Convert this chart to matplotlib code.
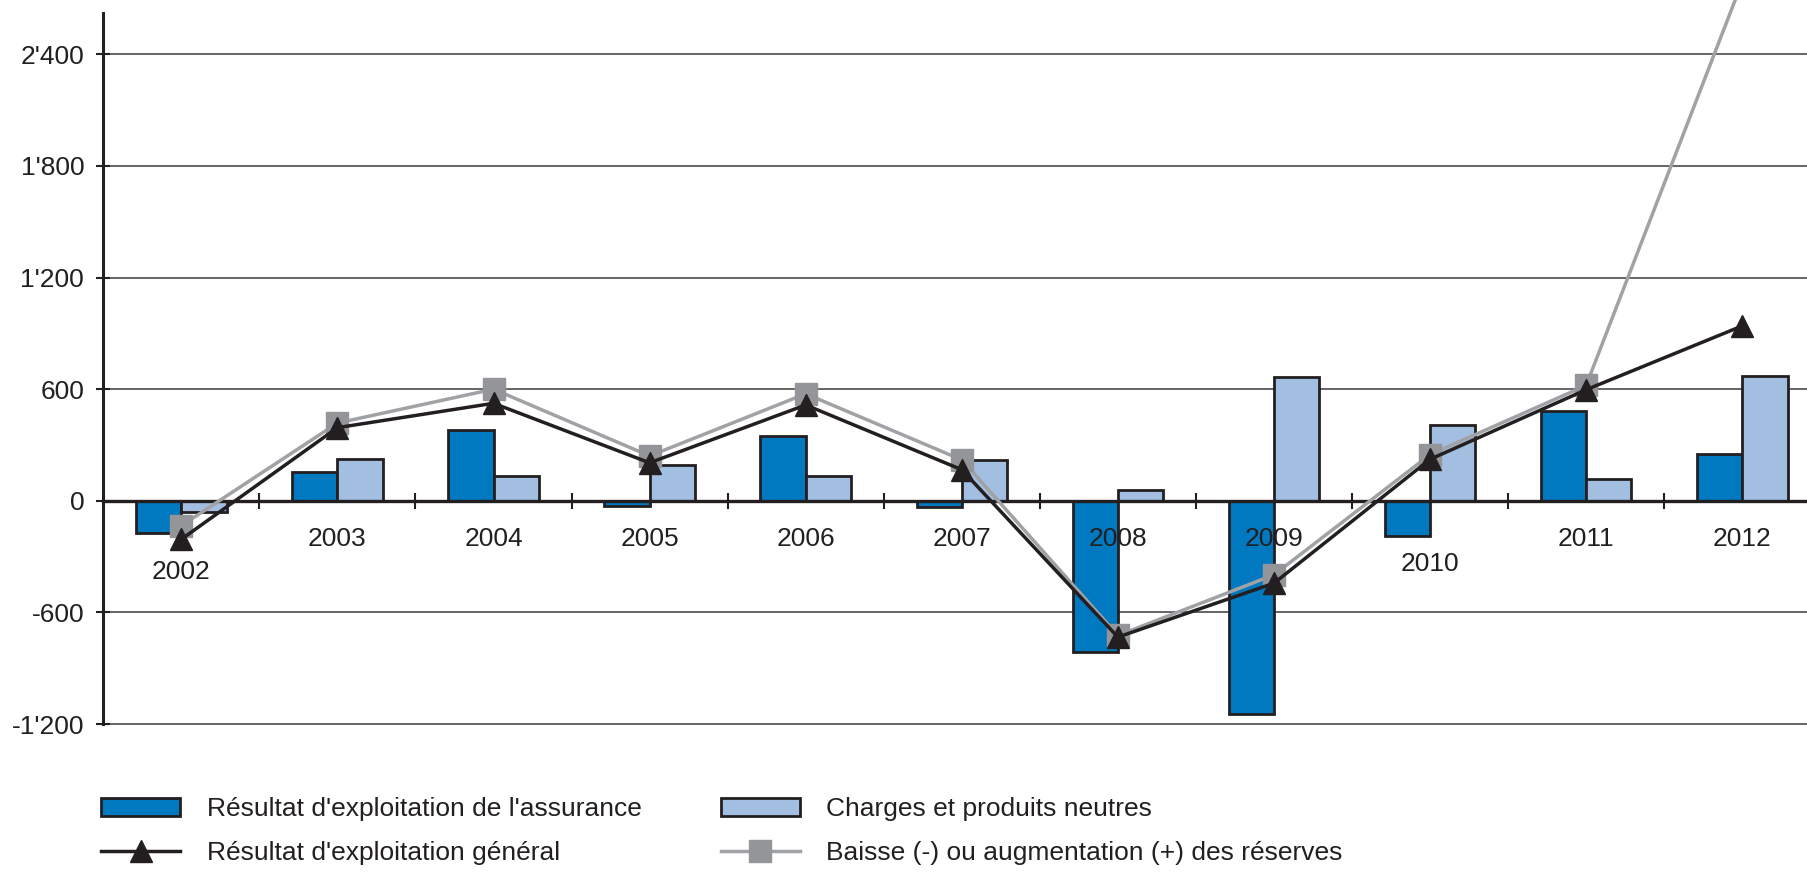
import matplotlib
matplotlib.use("Agg")
import matplotlib.pyplot as plt
import matplotlib.transforms as mtransforms
from matplotlib.ticker import FuncFormatter
import numpy as np

plt.rcParams['font.family'] = ['Liberation Sans', 'DejaVu Sans']

# data
years = ['2002', '2003', '2004', '2005', '2006', '2007', '2008', '2009', '2010', '2011', '2012']
assurance = [-175, 156, 383, -26, 350, -34, -814, -1146, -188, 484, 250]
neutres = [-59, 225, 131, 192, 131, 217, 59, 663, 409, 119, 672]
general = [-207, 393, 524, 204, 515, 167, -733, -443, 223, 597, 940]
reserves = [-134, 418, 600, 241, 575, 220, -724, -398, 248, 620, 2790]
yticks = [-1200, -600, 0, 600, 1200, 1800, 2400]

lab_bar1 = "Résultat d'exploitation de l'assurance"
lab_bar2 = "Charges et produits neutres"
lab_line1 = "Résultat d'exploitation général"
lab_line2 = "Baisse (-) ou augmentation (+) des réserves"

dark = '#231F20'

fig = plt.figure(figsize=(18.07, 8.76), dpi=100)
ax = fig.add_axes([103.3 / 1807, 1 - 724 / 876, (1820.3 - 103.3) / 1807, 724 / 876])

x = np.arange(len(years))
w = 0.29

# gridlines behind the bars
for yv in yticks:
    if yv != 0:
        ax.axhline(yv, color='#3c3c3c', lw=1.1, zorder=0.5, clip_on=False)

b1 = ax.bar(x - w / 2, assurance, w, color='#0079C1', edgecolor=dark, lw=2.0, zorder=1, label=lab_bar1)
b2 = ax.bar(x + w / 2, neutres, w, color='#A2BFE2', edgecolor=dark, lw=2.0, zorder=1, label=lab_bar2)
l2, = ax.plot(x, reserves, color='#A0A2A5', lw=2.5, marker='s', ms=15.5, mfc='#939598', mec='#939598',
              zorder=3, label=lab_line2)
l1, = ax.plot(x, general, color=dark, lw=2.5, marker='^', ms=16, mfc=dark, mec=dark,
              zorder=4, label=lab_line1)

ax.set_xlim(-0.5, 10.5)
ax.set_ylim(-1200, 2692)

for s in ['top', 'right']:
    ax.spines[s].set_visible(False)
ax.spines['bottom'].set_position(('data', 0))
ax.spines['bottom'].set_linewidth(2.4)
ax.spines['bottom'].set_color(dark)
ax.spines['left'].set_bounds(-1200, 2624)
ax.spines['left'].set_linewidth(2.2)
ax.spines['left'].set_color(dark)

ax.set_yticks(yticks)
ax.yaxis.set_major_formatter(FuncFormatter(lambda v, p: f"{int(v):,}".replace(',', "'")))
ax.tick_params(axis='y', direction='inout', length=9.5, width=1.5, pad=9, labelsize=19,
               color=dark, labelcolor=dark)

ax.set_xticks(x)
ax.set_xticklabels(years)
ax.set_xticks(np.arange(0.5, 10, 1), minor=True)
ax.tick_params(axis='x', which='major', length=0, pad=19, labelsize=19, labelcolor=dark)
ax.tick_params(axis='x', which='minor', direction='inout', length=11, width=1.5, color=dark)

# labels under negative bars sit lower
shift = {0: 24, 8: 18}
for i, lbl in enumerate(ax.get_xticklabels()):
    if i in shift:
        lbl.set_transform(lbl.get_transform() +
                          mtransforms.ScaledTranslation(0, -shift[i] / 72, fig.dpi_scale_trans))

fig.legend(handles=[b1, l1, b2, l2], ncol=2, loc='upper left',
           bbox_to_anchor=(101 / 1807, 1 - 797 / 876), frameon=False, fontsize=19,
           handlelength=3.0, handleheight=0.7, handletextpad=1.0, columnspacing=3.0,
           labelspacing=0.75, borderpad=0, borderaxespad=0, labelcolor=dark)

fig.savefig('out.png', dpi=100)
